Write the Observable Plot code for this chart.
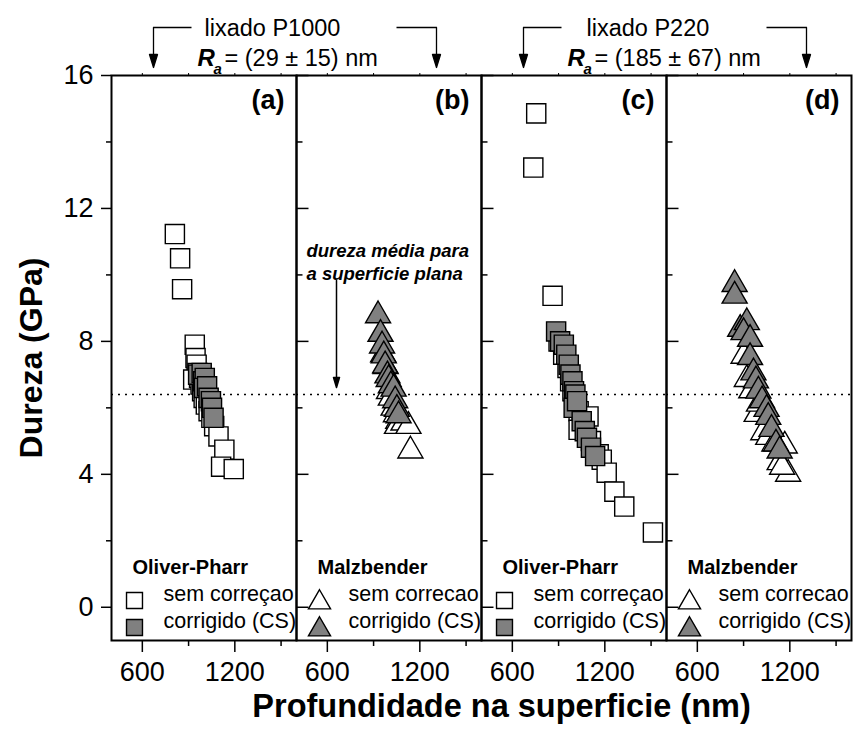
<!DOCTYPE html>
<html><head><meta charset="utf-8">
<script src="https://cdn.jsdelivr.net/npm/d3@7"></script>
<script src="https://cdn.jsdelivr.net/npm/@observablehq/plot@0.6"></script>
<style>body{margin:0;background:#fff} svg{display:block}</style>
</head><body><div id="chart"></div>
<script>
// ---------- data ----------
const panels = ["a", "b", "c", "d"];
const panelLabels = ["(a)", "(b)", "(c)", "(d)"];
const methods = ["Oliver-Pharr", "Malzbender", "Oliver-Pharr", "Malzbender"];
const rawNames = ["sem correçao", "sem correcao", "sem correçao", "sem correcao"];
const corrNames = ["corrigido (CS)", "corrigido (CS)", "corrigido (CS)", "corrigido (CS)"];
const groupTitles = ["lixado P1000", "lixado P220"];
const groupRa = ["= (29 ± 15) nm", "= (185 ± 67) nm"];
const noteText = "dureza média para\na superficie plana";
const xLabel = "Profundidade na superficie (nm)";
const yLabel = "Dureza (GPa)";
const majorY = [0, 4, 8, 12, 16];
const minorY = [2, 6, 10, 14];
const majorX = [600, 1200];
const minorX = [900, 1500];
const topX = [600, 900, 1200, 1500];
const refHardness = 6.4;

// (a) lixado P1000, Oliver-Pharr
const aRawX = [811, 845, 858, 940, 945, 952, 958, 930, 968, 978, 988, 998, 1012, 1030, 1048, 1066, 1094, 1132, 1111, 1193];
const aRawY = [11.23, 10.5, 9.57, 7.9, 7.5, 7.3, 7.05, 6.85, 6.9, 6.7, 6.5, 6.3, 6.1, 5.9, 5.7, 5.45, 5.14, 4.74, 4.23, 4.16];
const aCorrX = [962, 985, 995, 1005, 1000, 1020, 1030, 1045, 1052, 1062];
const aCorrY = [7.0, 7.05, 6.8, 6.9, 6.6, 6.65, 6.3, 6.2, 6.0, 5.7];
// (b) lixado P1000, Malzbender
const bRawX = [962, 978, 1000, 1012, 1030, 1045, 1060, 1052, 1094, 1126, 1139];
const bRawY = [7.6, 7.25, 6.5, 6.3, 6.0, 5.8, 5.6, 5.45, 5.55, 5.45, 4.71];
const bCorrX = [929, 945, 955, 966, 975, 990, 998, 1012, 1030, 1040, 1051, 1062];
const bCorrY = [8.78, 8.22, 7.87, 7.57, 7.27, 6.97, 6.86, 6.67, 6.57, 6.22, 5.96, 5.77];
// (c) lixado P220, Oliver-Pharr
const cRawX = [755, 736, 861, 900, 930, 958, 975, 990, 1010, 1030, 1050, 1094, 1030, 1110, 1160, 1180, 1212, 1262, 1326, 1512];
const cRawY = [14.86, 13.23, 9.37, 8.0, 7.6, 7.2, 6.8, 6.5, 6.2, 5.9, 5.7, 5.74, 5.34, 5.0, 4.6, 4.44, 4.05, 3.48, 3.03, 2.25];
const cCorrX = [884, 910, 934, 950, 966, 977, 990, 1000, 1009, 998, 1020, 1050, 1070, 1084, 1110, 1137];
const cCorrY = [8.3, 8.0, 7.9, 7.6, 7.3, 7.0, 6.8, 6.5, 6.4, 6.0, 6.2, 5.6, 5.3, 5.1, 4.8, 4.55];
// (d) lixado P220, Malzbender
const dRawX = [900, 921, 950, 985, 1000, 1028, 1060, 1100, 1167, 1134, 1189, 1150];
const dRawY = [7.56, 6.86, 6.52, 5.81, 6.12, 5.26, 5.12, 4.92, 4.86, 4.36, 4.01, 4.22];
const dCorrX = [842, 842, 878, 921, 900, 942, 942, 964, 980, 996, 1020, 1049, 1060, 1081, 1110, 1134];
const dCorrY = [9.72, 9.37, 8.37, 8.57, 8.27, 8.07, 7.52, 7.06, 6.82, 6.51, 6.22, 5.96, 5.72, 5.36, 4.92, 4.71];

// ---------- tables ----------
function rowsOf(panel, xs, ys) { return xs.map((x, i) => ({fx: panel, x, y: ys[i]})); }
const rawSquares = [...rowsOf("a", aRawX, aRawY), ...rowsOf("c", cRawX, cRawY)];
const corrSquares = [...rowsOf("a", aCorrX, aCorrY), ...rowsOf("c", cCorrX, cCorrY)];
const rawTriangles = [...rowsOf("b", bRawX, bRawY), ...rowsOf("d", dRawX, dRawY)];
const corrTriangles = [...rowsOf("b", bCorrX, bCorrY), ...rowsOf("d", dCorrX, dCorrY)];
const panelTable = panels.map((p, i) => ({fx: p, label: panelLabels[i], method: methods[i], raw: rawNames[i], corr: corrNames[i]}));
const sqPanels = panelTable.filter((d, i) => i % 2 === 0);
const triPanels = panelTable.filter((d, i) => i % 2 === 1);
const innerMajor = [], innerMinor = [];
["b", "c", "d"].forEach(p => {
  majorY.forEach(v => innerMajor.push({fx: p, y: v}));
  minorY.forEach(v => innerMinor.push({fx: p, y: v}));
});

// ---------- shapes ----------
const lineShape = {draw(ctx, l) { ctx.moveTo(0, 0); ctx.lineTo(0, -l); }};
const arrowShape = (w, h) => ({
  draw(ctx, l) {
    ctx.moveTo(0, 0); ctx.lineTo(0, -l + h);
    ctx.moveTo(0, -l); ctx.lineTo(-w, -l + h); ctx.lineTo(w, -l + h); ctx.closePath();
  }
});

const FONT = "Liberation Sans, Arial, Helvetica, sans-serif";
const GRAY = "#808080";
const leftPanels = [{fx: "a"}, {fx: "c"}];
const rightPanels = [{fx: "b"}, {fx: "d"}];

const chart = Plot.plot({
  width: 854, height: 735,
  marginLeft: 110, marginRight: 2, marginTop: 75, marginBottom: 95,
  style: {fontFamily: FONT, background: "white", color: "black", overflow: "visible"},
  fx: {domain: panels, padding: 0, axis: null, label: null},
  x: {domain: [400, 1600], label: null},
  y: {domain: [-1, 16], label: null},
  marks: [
    Plot.ruleY([refHardness], {strokeDasharray: "2,5", strokeWidth: 1.5, stroke: "black"}),
    // data
    Plot.dot(rawSquares, {fx: "fx", x: "x", y: "y", symbol: "square", r: 10.8, fill: "white", stroke: "black", strokeWidth: 1.4}),
    Plot.dot(rawTriangles, {fx: "fx", x: "x", y: "y", symbol: "triangle", r: 9.3, fill: "white", stroke: "black", strokeWidth: 1.4}),
    Plot.dot(corrSquares, {fx: "fx", x: "x", y: "y", symbol: "square", r: 10.8, fill: GRAY, stroke: "black", strokeWidth: 1.4}),
    Plot.dot(corrTriangles, {fx: "fx", x: "x", y: "y", symbol: "triangle", r: 9.3, fill: GRAY, stroke: "black", strokeWidth: 1.4}),
    // frame
    Plot.frame({stroke: "black", strokeWidth: 2}),
    // axes
    Plot.axisY({ticks: majorY, tickSize: 10, tickPadding: 8, fontSize: 27, label: null, strokeWidth: 1.5, tickFormat: d => String(d)}),
    Plot.axisY({ticks: minorY, tickSize: 5, tickFormat: () => "", label: null, strokeWidth: 1.5}),
    Plot.axisX({ticks: majorX, anchor: "bottom", tickSize: 12, tickPadding: 9, fontSize: 27, label: null, strokeWidth: 1.5, tickFormat: d => String(d)}),
    Plot.axisX({ticks: minorX, anchor: "bottom", tickSize: 6, tickFormat: () => "", label: null, strokeWidth: 1.5}),
    Plot.axisX({ticks: topX, anchor: "top", tickSize: 3, tickFormat: () => "", label: null, strokeWidth: 1}),
    Plot.vector(innerMajor, {fx: "fx", y: "y", frameAnchor: "left", length: 12, rotate: 90, anchor: "start", shape: lineShape, strokeWidth: 1.5, strokeLinecap: "butt"}),
    Plot.vector(innerMinor, {fx: "fx", y: "y", frameAnchor: "left", length: 6, rotate: 90, anchor: "start", shape: lineShape, strokeWidth: 1.5, strokeLinecap: "butt"}),
    // panel labels
    Plot.text(panelTable, {fx: "fx", text: "label", frameAnchor: "top-right", dx: -12, dy: 14, lineAnchor: "top", textAnchor: "end", fontSize: 27, fontWeight: "bold"}),
    // legends
    Plot.text(panelTable, {fx: "fx", text: "method", frameAnchor: "bottom-left", dx: 21, dy: -67, textAnchor: "start", fontSize: 20, fontWeight: "bold"}),
    Plot.text(panelTable, {fx: "fx", text: "raw", frameAnchor: "bottom-left", dx: 52, dy: -40, textAnchor: "start", fontSize: 21.5}),
    Plot.text(panelTable, {fx: "fx", text: "corr", frameAnchor: "bottom-left", dx: 52, dy: -13, textAnchor: "start", fontSize: 21.5}),
    Plot.dot(sqPanels, {fx: "fx", frameAnchor: "bottom-left", dx: 23, dy: -40, symbol: "square", r: 9, fill: "white", stroke: "black", strokeWidth: 1.4}),
    Plot.dot(sqPanels, {fx: "fx", frameAnchor: "bottom-left", dx: 23, dy: -13, symbol: "square", r: 9, fill: GRAY, stroke: "black", strokeWidth: 1.4}),
    Plot.dot(triPanels, {fx: "fx", frameAnchor: "bottom-left", dx: 23, dy: -38, symbol: "triangle", r: 8.2, fill: "white", stroke: "black", strokeWidth: 1.4}),
    Plot.dot(triPanels, {fx: "fx", frameAnchor: "bottom-left", dx: 23, dy: -11, symbol: "triangle", r: 8.2, fill: GRAY, stroke: "black", strokeWidth: 1.4}),
    // note in (b)
    Plot.text([{fx: "b"}], {fx: "fx", text: [noteText], frameAnchor: "top-left", dx: 10, dy: 165, lineAnchor: "top", textAnchor: "start", lineHeight: 1.25, fontSize: 18.5, fontWeight: "bold", fontStyle: "italic"}),
    Plot.vector([{fx: "b"}], {fx: "fx", frameAnchor: "top-left", dx: 40, dy: 312, length: 107, rotate: 180, anchor: "end", shape: arrowShape(3, 10), fill: "black", stroke: "black", strokeWidth: 1.5}),
    // top brackets
    Plot.vector(leftPanels, {fx: "fx", frameAnchor: "top-left", dx: 42, dy: -8, length: 40, rotate: 180, anchor: "end", shape: arrowShape(4, 13), fill: "black", stroke: "black", strokeWidth: 1.3}),
    Plot.vector(leftPanels, {fx: "fx", frameAnchor: "top-left", dx: 42, dy: -48, length: 38, rotate: 90, anchor: "start", shape: lineShape, strokeWidth: 1.3, strokeLinecap: "butt"}),
    Plot.vector(rightPanels, {fx: "fx", frameAnchor: "top-right", dx: -45, dy: -8, length: 40, rotate: 180, anchor: "end", shape: arrowShape(4, 13), fill: "black", stroke: "black", strokeWidth: 1.3}),
    Plot.vector(rightPanels, {fx: "fx", frameAnchor: "top-right", dx: -85, dy: -48, length: 40, rotate: 90, anchor: "start", shape: lineShape, strokeWidth: 1.3, strokeLinecap: "butt"}),
    Plot.text([{fx: "a"}], {fx: "fx", text: [groupTitles[0]], frameAnchor: "top-left", dx: 93, dy: -40, textAnchor: "start", lineAnchor: "bottom", fontSize: 23.5}),
    Plot.text([{fx: "c"}], {fx: "fx", text: [groupTitles[1]], frameAnchor: "top-left", dx: 105, dy: -40, textAnchor: "start", lineAnchor: "bottom", fontSize: 23.5}),
    Plot.text(leftPanels, {fx: "fx", text: () => "R", frameAnchor: "top-left", dx: 86, dy: -10, textAnchor: "start", lineAnchor: "bottom", fontSize: 24, fontWeight: "bold", fontStyle: "italic"}),
    Plot.text(leftPanels, {fx: "fx", text: () => "a", frameAnchor: "top-left", dx: 102, dy: -2, textAnchor: "start", lineAnchor: "bottom", fontSize: 15, fontWeight: "bold", fontStyle: "italic"}),
    Plot.text(leftPanels, {fx: "fx", text: groupRa, frameAnchor: "top-left", dx: 113, dy: -10, textAnchor: "start", lineAnchor: "bottom", fontSize: 23.5}),
    // axis titles
    Plot.text([{fx: "a"}], {fx: "fx", text: [yLabel], frameAnchor: "left", dx: -80, rotate: -90, textAnchor: "middle", fontSize: 32, fontWeight: "bold"}),
    Plot.text([{fx: "c"}], {fx: "fx", text: [xLabel], frameAnchor: "bottom-left", dx: 20, dy: 66, textAnchor: "middle", lineAnchor: "middle", fontSize: 32.5, fontWeight: "bold"})
  ]
});
document.getElementById("chart").appendChild(chart);
</script>
</body></html>
